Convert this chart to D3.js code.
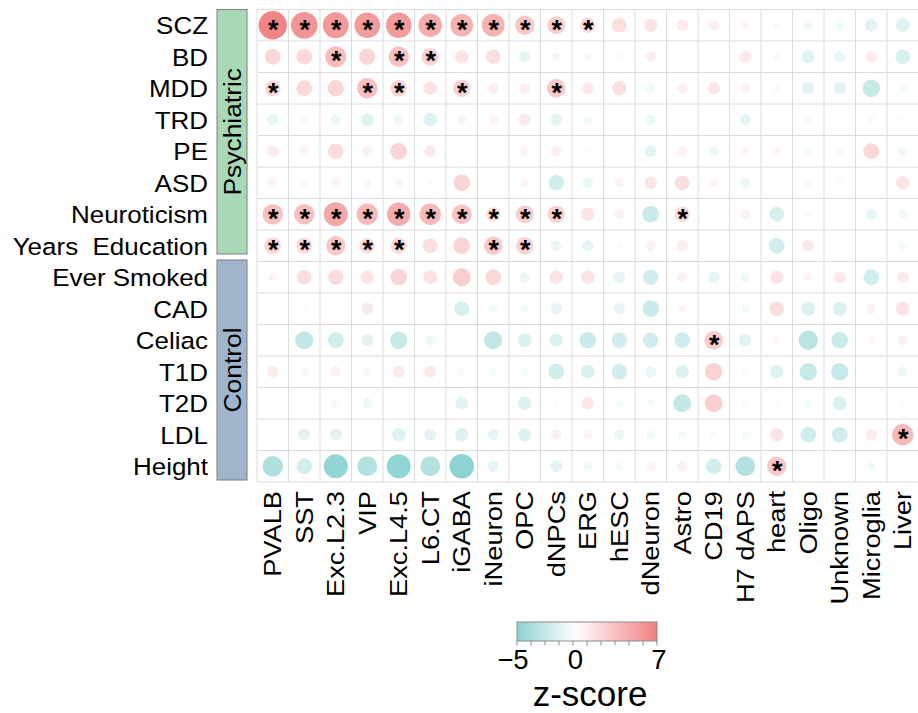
<!DOCTYPE html>
<html>
<head>
<meta charset="utf-8">
<script src="https://cdn.jsdelivr.net/npm/d3@7"></script>
<style>
  html, body { margin: 0; padding: 0; background: #fff; }
  svg text { font-family: "Liberation Sans", Arial, Helvetica, sans-serif; }
</style>
</head>
<body>
<svg id="chart" width="918" height="713"></svg>
<script>
// ---------------- DATA ----------------
const traits = ["SCZ","BD","MDD","TRD","PE","ASD","Neuroticism","Years  Education",
                "Ever Smoked","CAD","Celiac","T1D","T2D","LDL","Height"];
const cellTypes = ["PVALB","SST","Exc.L2.3","VIP","Exc.L4.5","L6.CT","iGABA","iNeuron","OPC","dNPCs",
                   "ERG","hESC","dNeuron","Astro","CD19","H7 dAPS","heart","Oligo","Unknown","Microglia","Liver"];
const groups = [
  {name: "Psychiatric", first: "SCZ", last: "Years  Education", color: "#a8d8b5"},
  {name: "Control", first: "Ever Smoked", last: "Height", color: "#a0b4cb"}
];
// z-scores, one array per trait (columns in cellTypes order)
const zSCZ      = [6.7, 5.9, 5.6, 5.5, 5.5, 4.6, 4.3, 4.3, 3.1, 2.7, 2.0, 1.8, 1.5, 1.1, 0.9, 0.6, -0.4, -0.7, -0.8, -1.3, -1.5];
const zBD       = [2.1, 2.1, 3.7, 2.2, 3.5, 2.5, 1.5, 1.8, -1.1, 0.6, 0.5, -0.3, 0.9, 0, 0.2, 1.2, -0.4, -1.4, -1.1, 1.1, -1.8];
const zMDD      = [2.1, 2.1, 2.2, 3.5, 2.3, 1.5, 2.5, 0.9, 0.9, 2.9, 1.2, 1.7, -0.7, 0.9, 1.3, 0.8, -0.4, -1.3, -1.3, -2.5, -0.6];
const zTRD      = [-1.1, -0.5, -0.9, -1.4, -0.8, -1.5, 0.6, 0.7, 1.2, -1.2, -0.7, 0, -0.9, 0.2, 0, -1.1, 0, 0.6, 0, -0.4, 0.3];
const zPE       = [1.1, 0.7, 2.0, 0.8, 2.3, 1.2, 0.2, -0.2, 0.7, 0.9, 0.3, 0.2, -1.2, 0.8, -0.8, 0.6, 0.6, -0.6, -0.5, 2.1, -0.7];
const zASD      = [0.7, 0.5, 0.7, 0.5, 0.6, 0.3, 2.3, 0.1, 0.6, -2.0, -0.9, 0.7, 1.3, 1.8, 0.7, -0.8, 0.2, -0.5, -0.3, 0, 1.5];
const zNeuro    = [3.5, 3.5, 4.8, 3.8, 4.6, 3.8, 3.3, 1.8, 2.7, 2.5, 1.5, 0.8, -2.3, 2.0, 0, 0.8, -1.8, 0.4, 0, -1.1, -0.7];
const zYearsEdu = [2.3, 2.1, 3.1, 2.0, 2.1, 1.8, 2.3, 2.9, 2.5, -0.9, -1.1, 0.3, 0.8, 1.0, 0, 0.2, -2.1, 1.2, 0, -0.15, -0.6];
const zSmoked   = [0.6, 1.8, 2.0, 1.5, 2.3, 1.6, 2.7, 2.1, -0.9, 1.5, 1.5, -1.2, -2.0, 0.8, -1.1, -0.8, 1.5, 0.6, 1.2, -2.1, 1.1];
const zCAD      = [0, -0.26, 0, 1.2, 0, 0.18, -1.8, -0.6, -0.6, -1.1, 0, -1.1, -2.3, 0.6, 0, -0.6, 1.8, -1.6, -1.6, 0.8, 1.6];
const zCeliac   = [0.18, -2.7, -2.1, -1.2, -2.5, -0.8, 0, -2.7, -1.6, -1.5, -2.3, -2.0, -2.0, -2.1, 2.9, -1.3, 0.5, -3.1, -2.3, 0.5, 0.8];
const zT1D      = [1.1, -0.5, 0.9, 0.5, 1.2, 1.2, 0.4, -0.5, -0.5, -2.1, -1.6, -2.0, -1.1, -1.5, 2.5, 0.4, -1.5, -2.5, -2.5, 0, -0.8];
const zT2D      = [0, 0, -0.5, -0.8, 0.18, 0, -1.3, 0.18, -1.5, -0.24, 1.3, -0.5, -0.5, -2.7, 2.7, -0.4, 0.24, -0.6, -1.6, 0.18, 0.3];
const zLDL      = [0, -1.2, -1.2, 0, -1.5, -1.2, -1.5, -1.1, -1.5, 0.9, 0.7, -0.9, -0.6, -0.5, -0.4, -0.5, 1.5, -2.1, -2.1, 1.1, 3.8];
const zHeight   = [-3.5, -2.0, -4.8, -3.3, -4.8, -3.3, -5.0, -1.1, 0, -1.2, -0.7, -0.5, 0.6, 0.8, -2.0, -3.3, 3.1, 0, 0, -0.6, 0];
const zRows = [zSCZ, zBD, zMDD, zTRD, zPE, zASD, zNeuro, zYearsEdu, zSmoked, zCAD, zCeliac, zT1D, zT2D, zLDL, zHeight];
// significant cells (column indices) per trait
const sigCols = [
  [0,1,2,3,4,5,6,7,8,9,10], [2,4,5], [0,3,4,6,9], [], [], [],
  [0,1,2,3,4,5,6,7,8,9,13], [0,1,2,3,4,7,8],
  [], [], [14], [], [], [20], [16]
];
const colorDomain = [-5, 0, 7];
const colorTicks = [-5, 0, 7];
const legendTitle = "z-score";

// ---------------- CHART ----------------
const svg = d3.select("#chart");
const cell = 31.5;
const x = d3.scaleBand().domain(cellTypes).range([257, 257 + cell * cellTypes.length]);
const y = d3.scaleBand().domain(traits).range([9.5, 9.5 + cell * traits.length]);
const color = d3.scaleLinear().domain(colorDomain).range(["#8dd3d3", "#ffffff", "#f08080"]).clamp(true);
const rScale = d3.scaleSqrt().domain([0, 7]).range([0, 14.5]);

const cells = [];
traits.forEach((t, i) => cellTypes.forEach((c, j) => {
  cells.push({t, c, z: zRows[i][j], sig: sigCols[i].includes(j)});
}));

// grid
const grid = svg.append("g").attr("stroke", "#dcdcdc").attr("stroke-width", 1);
d3.range(cellTypes.length + 1).forEach(k => {
  const xx = x.range()[0] + k * x.step();
  grid.append("line").attr("x1", xx).attr("x2", xx).attr("y1", y.range()[0]).attr("y2", y.range()[1]);
});
d3.range(traits.length + 1).forEach(k => {
  const yy = y.range()[0] + k * y.step();
  grid.append("line").attr("x1", x.range()[0]).attr("x2", x.range()[1]).attr("y1", yy).attr("y2", yy);
});

// circles
svg.append("g").selectAll("circle").data(cells).join("circle")
  .attr("cx", d => x(d.c) + x.bandwidth() / 2)
  .attr("cy", d => y(d.t) + y.bandwidth() / 2)
  .attr("r", d => rScale(Math.abs(d.z)))
  .attr("fill", d => color(d.z));

// stars
svg.append("g").selectAll("text").data(cells.filter(d => d.sig)).join("text")
  .attr("x", d => x(d.c) + x.bandwidth() / 2 + 0.5)
  .attr("y", d => y(d.t) + y.bandwidth() / 2 + 13.5)
  .attr("text-anchor", "middle")
  .attr("font-size", 27)
  .attr("font-weight", "bold")
  .attr("fill", "#000")
  .text("*");

// row labels
svg.append("g").selectAll("text").data(traits).join("text")
  .attr("transform", d => `translate(208,${y(d) + y.bandwidth() / 2 + 8.8}) scale(1.06,1)`)
  .attr("text-anchor", "end")
  .attr("font-size", 24.5)
  .style("white-space", "pre")
  .attr("fill", "#000")
  .text(d => d);

// column labels
svg.append("g").selectAll("text").data(cellTypes).join("text")
  .attr("transform", d => `translate(${x(d) + x.bandwidth() / 2 + 8.5},491) rotate(-90) scale(1.16,1)`)
  .attr("text-anchor", "end")
  .attr("font-size", 23.5)
  .attr("fill", "#000")
  .text(d => d);

// group bars
groups.forEach((g, i) => {
  const y0 = y(g.first);
  const y1 = y(g.last) + y.bandwidth();
  const top = i === 0 ? y0 : y0 - 1.5;
  const bot = i === 0 ? y1 - 7.5 : y1 - 2;
  svg.append("rect").attr("x", 217).attr("y", top).attr("width", 30).attr("height", bot - top)
    .attr("fill", g.color).attr("stroke", "#7f7f7f").attr("stroke-width", 1);
  svg.append("text")
    .attr("transform", `translate(240.5,${(top + bot) / 2}) rotate(-90) scale(1.1,1)`)
    .attr("text-anchor", "middle")
    .attr("font-size", 24)
    .attr("fill", "#000")
    .text(g.name);
});

// color legend
const lx0 = 517, lx1 = 657, ly = 622, lh = 19;
const defs = svg.append("defs");
const grad = defs.append("linearGradient").attr("id", "zgrad");
d3.range(0, 1.0001, 0.05).forEach(t => {
  const v = colorDomain[0] + t * (colorDomain[2] - colorDomain[0]);
  grad.append("stop").attr("offset", t).attr("stop-color", color(v));
});
svg.append("rect").attr("x", lx0).attr("y", ly).attr("width", lx1 - lx0).attr("height", lh)
  .attr("fill", "url(#zgrad)").attr("stroke", "#8a8a8a").attr("stroke-width", 1);
const lscale = d3.scaleLinear().domain([colorDomain[0], colorDomain[2]]).range([lx0, lx1]);
d3.range(11).forEach(k => {
  const xx = lx0 + k * (lx1 - lx0) / 10;
  svg.append("line").attr("x1", xx).attr("x2", xx).attr("y1", ly + lh).attr("y2", ly + lh + 4.5)
    .attr("stroke", "#8a8a8a").attr("stroke-width", 1);
});
svg.append("g").selectAll("text").data(colorTicks).join("text")
  .attr("x", d => lscale(d) - (d < 0 ? 4 : 0) + (d > 0 ? 2 : 0))
  .attr("y", 668.5)
  .attr("text-anchor", "middle")
  .attr("font-size", 27.5)
  .attr("fill", "#000")
  .text(d => d < 0 ? "\u2212" + Math.abs(d) : d);
svg.append("text").attr("x", 590).attr("y", 706).attr("text-anchor", "middle")
  .attr("font-size", 35).attr("fill", "#000").text(legendTitle);
</script>
</body>
</html>
